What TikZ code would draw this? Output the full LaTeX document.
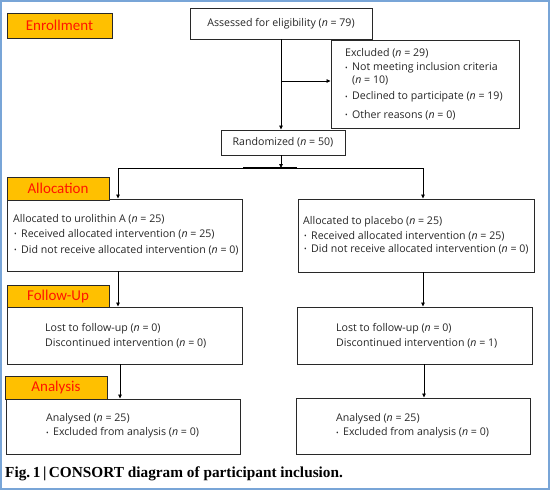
\documentclass[tikz,border=0pt]{standalone}
\usepackage{fontspec}
\setmainfont{Open Sans}
\newfontfamily\labfont{Carlito}
\newfontfamily\capfont{Liberation Serif}
\usetikzlibrary{arrows.meta}
\definecolor{labfill}{RGB}{255,192,0}
\definecolor{labtext}{RGB}{255,20,0}
\definecolor{framec}{RGB}{120,165,215}
\definecolor{boxline}{RGB}{40,40,40}
\newcommand{\nval}{\textit{n}}
\newcommand{\bul}{\makebox[7pt][l]{\raisebox{0.05ex}{\fontsize{7}{7}\selectfont •}}}
\tikzset{
  box/.style={draw=boxline, line width=0.9pt, fill=white, inner sep=0pt},
  lab/.style={draw=boxline, line width=0.9pt, fill=labfill, inner sep=0pt, font=\labfont\fontsize{15}{17}\selectfont, text=labtext},
  txt/.style={anchor=west, inner sep=0pt, font=\fontsize{10.6}{12}\selectfont, text=black!85},
  ctxt/.style={inner sep=0pt, font=\fontsize{10.6}{12}\selectfont, text=black!85},
  conn/.style={line width=0.8pt, black},
  arr/.style={conn, -{Triangle[length=4pt,width=3.5pt]}}
}
\begin{document}
\begin{tikzpicture}[x=1pt,y=-1pt]
\useasboundingbox (0,0) rectangle (550,490);
\fill[white] (0,0) rectangle (550,490);
\draw[framec, line width=1.5pt] (1,1) rectangle (549,489);

% boxes
\node[box, minimum width=182pt, minimum height=31pt] (assess) at (281,23.5) {};
\node[box, minimum width=188pt, minimum height=88pt] (excl) at (425,84) {};
\node[box, minimum width=124pt, minimum height=25pt] (rand) at (283,142.5) {};
\node[box, minimum width=235pt, minimum height=72pt] (alA) at (124.5,235) {};
\node[box, minimum width=236pt, minimum height=73pt] (alB) at (416,235.5) {};
\node[box, minimum width=235pt, minimum height=57pt] (fuA) at (124.5,335.5) {};
\node[box, minimum width=235pt, minimum height=57pt] (fuB) at (414.5,335.5) {};
\node[box, minimum width=234pt, minimum height=55pt] (anA) at (123,426.5) {};
\node[box, minimum width=234pt, minimum height=56pt] (anB) at (413,426) {};

% stage labels
\node[lab, minimum width=105pt, minimum height=25pt] (lenr) at (59.5,25.5) {Enrollment};
\node[lab, minimum width=102pt, minimum height=23pt] (lall) at (58,188.5) {Allocation};
\node[lab, minimum width=102pt, minimum height=22pt] (lfol) at (58,296) {Follow-Up};
\node[lab, minimum width=102pt, minimum height=23pt] (lana) at (56,387.5) {Analysis};

% texts
\node[ctxt] (tassess) at (assess.center) {Assessed for eligibility (\nval{} = 79)};
\node[ctxt] (trand) at (rand.center) {Randomized (\nval{} = 50)};

\node[txt] (te1) at (345,53) {Excluded (\nval{} = 29)};
\node[txt] (te2) at (345,68) {\bul Not meeting inclusion criteria};
\node[txt] (te3) at (352,80) {(\nval{} = 10)};
\node[txt] (te4) at (345,97) {\bul Declined to participate (\nval{} = 19)};
\node[txt] (te5) at (345,115) {\bul Other reasons (\nval{} = 0)};

\node[txt] (ta1) at (13,219) {Allocated to urolithin A (\nval{} = 25)};
\node[txt] (ta2) at (14,234) {\bul Received allocated intervention (\nval{} = 25)};
\node[txt] (ta3) at (14,250) {\bul Did not receive allocated intervention (\nval{} = 0)};

\node[txt] (tb1) at (303,222) {Allocated to placebo (\nval{} = 25)};
\node[txt] (tb2) at (304,236) {\bul Received allocated intervention (\nval{} = 25)};
\node[txt] (tb3) at (304,249) {\bul Did not receive allocated intervention (\nval{} = 0)};

\node[txt] (tf1) at (45,329) {Lost to follow-up (\nval{} = 0)};
\node[txt] (tf2) at (45,343) {Discontinued intervention (\nval{} = 0)};
\node[txt] (tg1) at (336,329) {Lost to follow-up (\nval{} = 0)};
\node[txt] (tg2) at (336,343) {Discontinued intervention (\nval{} = 1)};

\node[txt] (tn1) at (46,419) {Analysed (\nval{} = 25)};
\node[txt] (tn2) at (46,433) {\bul Excluded from analysis (\nval{} = 0)};
\node[txt] (tm1) at (336,419) {Analysed (\nval{} = 25)};
\node[txt] (tm2) at (336,433) {\bul Excluded from analysis (\nval{} = 0)};

% caption
\node[anchor=west, inner sep=0pt, font=\capfont\bfseries\fontsize{15.3}{17}\selectfont] (cap) at (5,474) {Fig.\,1\,|\,CONSORT diagram of participant inclusion.};

% connectors
\coordinate (ej) at (281,81);
\coordinate (bl) at (118,168);
\coordinate (brr) at (423,168);
\draw[arr] (assess.south -| ej) -- (rand.north -| ej);
\draw[arr] (ej) -- (ej -| excl.west);
\draw[arr] (rand.south -| ej) -- (ej |- bl);
\draw[conn] (bl) -- (brr);
\draw[line width=1.6pt] (243,168) -- (297,168);
\draw[arr] (bl) -- (bl |- alA.north);
\draw[arr] (brr) -- (brr |- alB.north);
\draw[arr] (alA.south -| bl) -- (fuA.north -| bl);
\draw[arr] (alB.south -| brr) -- (fuB.north -| brr);
\coordinate (al2) at (120,364);
\coordinate (ar2) at (424,364);
\draw[arr] (al2) -- (al2 |- anA.north);
\draw[arr] (ar2) -- (ar2 |- anB.north);
\end{tikzpicture}
\end{document}
